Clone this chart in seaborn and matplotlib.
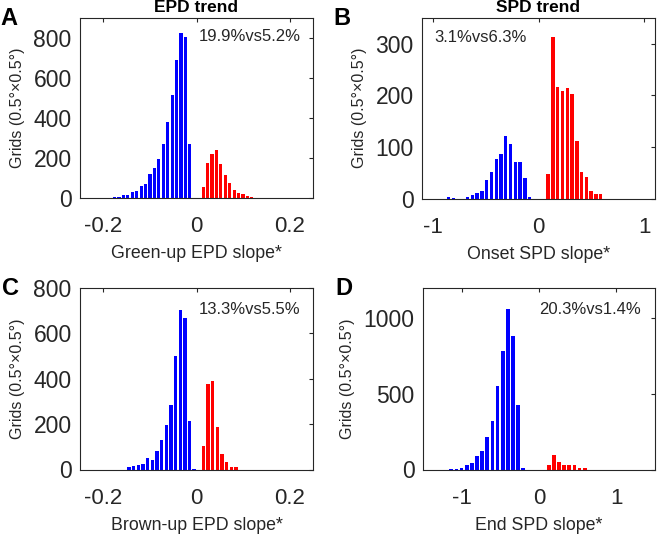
import numpy as np
import pandas as pd
import matplotlib
matplotlib.use('Agg')
import matplotlib.pyplot as plt
import seaborn as sns
from matplotlib.ticker import FuncFormatter

# Panel A: Green-up EPD slope
a_neg_x = [-0.1948, -0.1853, -0.1758, -0.1663, -0.1568, -0.1473, -0.1378, -0.1283, -0.1188,
           -0.1093, -0.0998, -0.0903, -0.0808, -0.0713, -0.0618, -0.0523, -0.0428, -0.0333,
           -0.0238, -0.0143]
a_neg_n = [1, 1, 4, 4, 15, 16, 28, 33, 60, 68, 120, 148, 197, 272, 380, 513, 690, 823, 805, 272]
a_pos_x = [0.0143, 0.0238, 0.0333, 0.0428, 0.0523, 0.0618, 0.0713, 0.0808, 0.0903, 0.0998,
           0.1093, 0.1188]
a_pos_n = [57, 175, 220, 241, 168, 113, 75, 42, 26, 21, 9, 4]

# Panel B: Onset SPD slope
b_neg_x = [-0.849, -0.804, -0.759, -0.714, -0.669, -0.624, -0.579, -0.534, -0.489, -0.444,
           -0.399, -0.354, -0.309, -0.264, -0.219, -0.174, -0.129, -0.084]
b_neg_n = [2, 1, 0, 0, 3, 6, 10, 15, 36, 51, 76, 87, 122, 105, 71, 70, 39, 2]
b_pos_x = [0.0915, 0.1365, 0.1815, 0.2265, 0.2715, 0.3165, 0.3615, 0.4065, 0.4515, 0.4965,
           0.5415, 0.5865]
b_pos_n = [48, 313, 217, 209, 215, 202, 111, 51, 41, 15, 8, 8]

# Panel C: Brown-up EPD slope
c_neg_x = [-0.145, -0.135, -0.125, -0.115, -0.105, -0.095, -0.085, -0.075, -0.065, -0.055,
           -0.045, -0.035, -0.025, -0.015, -0.005]
c_neg_n = [12, 16, 22, 23, 50, 40, 81, 128, 194, 283, 501, 702, 667, 214, 3]
c_pos_x = [0.015, 0.025, 0.035, 0.045, 0.055, 0.065, 0.075, 0.085]
c_pos_n = [104, 379, 392, 188, 70, 31, 13, 12]

# Panel D: End SPD slope
d_neg_x = [-1.134, -1.068, -1.001, -0.935, -0.868, -0.802, -0.735, -0.669, -0.602, -0.536,
           -0.469, -0.403, -0.336, -0.270, -0.203]
d_neg_n = [4, 4, 13, 29, 40, 87, 122, 218, 320, 553, 782, 1062, 880, 429, 13]
d_pos_x = [0.126, 0.192, 0.259, 0.326, 0.392, 0.459, 0.525, 0.592]
d_pos_n = [29, 93, 49, 31, 31, 31, 7, 7]

panel_letters = ['A', 'B', 'C', 'D']
col_titles = ['EPD trend', 'SPD trend']
x_labels = ['Green-up EPD slope*', 'Onset SPD slope*', 'Brown-up EPD slope*', 'End SPD slope*']
ratios = ['19.9%vs5.2%', '3.1%vs6.3%', '13.3%vs5.5%', '20.3%vs1.4%']
x_ticks = [[-0.2, 0, 0.2], [-1, 0, 1], [-0.2, 0, 0.2], [-1, 0, 1]]
y_ticks = [[0, 200, 400, 600, 800], [0, 100, 200, 300], [0, 200, 400, 600, 800], [0, 500, 1000]]

sns.set_style('white')
plt.rcParams['font.family'] = ['Liberation Sans', 'DejaVu Sans']
plt.rcParams['axes.unicode_minus'] = False
ink = '#262626'

fig = plt.figure(figsize=(6.57, 5.34), dpi=100)
W, H = 657, 534


def px_axes(left, top, right, bottom):
    return fig.add_axes([left / W, 1 - bottom / H, (right - left) / W, (bottom - top) / H])


axes = [
    px_axes(80, 18, 313, 198),
    px_axes(422, 18, 655, 198.5),
    px_axes(80, 288, 313, 469.5),
    px_axes(423, 288, 655, 469.5),
]

panels = [
    (a_neg_x, a_neg_n, a_pos_x, a_pos_n, (-0.25, 0.25), (0, 900)),
    (b_neg_x, b_neg_n, b_pos_x, b_pos_n, (-1.1, 1.1), (0, 350)),
    (c_neg_x, c_neg_n, c_pos_x, c_pos_n, (-0.25, 0.25), (0, 800)),
    (d_neg_x, d_neg_n, d_pos_x, d_pos_n, (-1.5, 1.5), (0, 1200)),
]
text_pos = [(0.511, 0.897), (0.052, 0.894), (0.511, 0.883), (0.50, 0.883)]

for i, (ax, (nx, nn, px, pn, xlim, ylim)) in enumerate(zip(axes, panels)):
    for xs, ns, col in [(nx, nn, 'blue'), (px, pn, 'red')]:
        df = pd.DataFrame({'slope': xs, 'grids': ns})
        w = (xs[-1] - xs[0]) / (len(xs) - 1)
        sns.histplot(data=df, x='slope', weights='grids', bins=len(xs),
                     binrange=(xs[0] - w / 2, xs[-1] + w / 2), shrink=0.72,
                     color=col, alpha=1, edgecolor='none', linewidth=0, ax=ax)
    ax.set_xlim(*xlim)
    ax.set_ylim(*ylim)
    ax.set_xticks(x_ticks[i])
    ax.set_yticks(y_ticks[i])
    ax.xaxis.set_major_formatter(FuncFormatter(lambda v, p: '%g' % v))
    ax.tick_params(direction='in', length=3, width=0.8, color=ink, top=True, right=True,
                   labelcolor=ink)
    ax.tick_params(axis='x', labelsize=16, pad=13)
    ax.tick_params(axis='y', labelsize=16.5, pad=6)
    for s in ax.spines.values():
        s.set_color(ink)
        s.set_linewidth(0.8)
    ax.set_xlabel(x_labels[i], fontsize=12.8, color=ink, labelpad=6)
    ax.set_ylabel('Grids (0.5°×0.5°)', fontsize=11.5, color=ink, labelpad=6)
    ax.text(text_pos[i][0], text_pos[i][1], ratios[i], transform=ax.transAxes,
            ha='left', va='center', fontsize=12, color=ink)
    if i < 2:
        ax.set_title(col_titles[i], fontsize=12.5, fontweight='bold', color='black', pad=4)

letter_pos = [(0, 25), (333, 25), (2, 295), (335, 295)]
for letter, (lx, ly) in zip(panel_letters, letter_pos):
    fig.text(lx / W, 1 - ly / H, letter, fontsize=17, fontweight='bold', color='black',
             ha='left', va='baseline')

fig.savefig('out.png', dpi=100)
